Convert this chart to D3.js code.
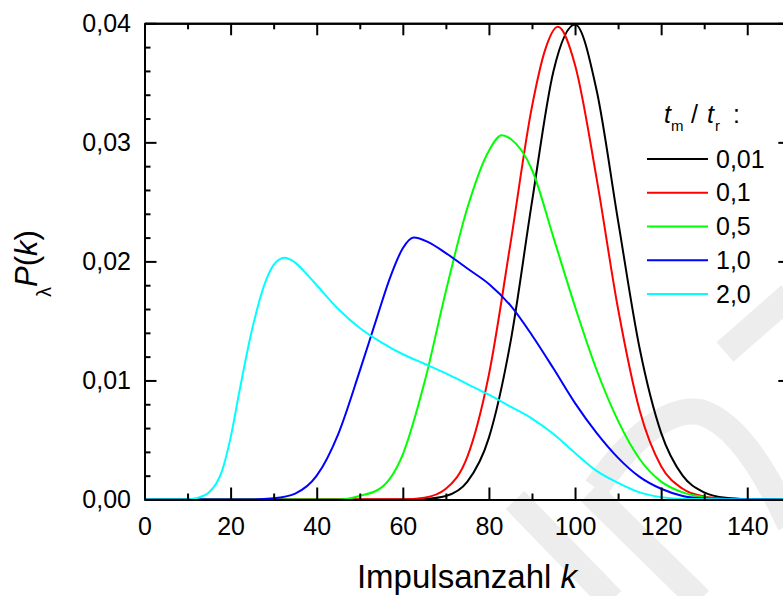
<!DOCTYPE html>
<html>
<head>
<meta charset="utf-8">
<script src="https://cdn.jsdelivr.net/npm/d3@7"></script>
<style>
  body { margin: 0; background: #fff; }
  svg text { font-family: "Liberation Sans", Arial, sans-serif; }
  .axis path, .axis line { stroke: #000; stroke-width: 2px; }
  .curve { fill: none; stroke-width: 2px; }
</style>
</head>
<body>
<svg id="chart" width="783" height="596"></svg>
<script>
// values (k = Impulsanzahl, p = lambda*P(k))
const seriesLabels = ["0,01", "0,1", "0,5", "1,0", "2,0"];
const seriesColors = ["#000000", "#ff0000", "#00ff00", "#0000ff", "#00ffff"];

const kBlack = [0, 60, 65, 70, 75, 80, 85, 90, 95, 100, 105, 110, 115, 120, 125, 130, 135, 140, 150];
const pBlack = [0, 0, 0.00005, 0.0003, 0.0015, 0.0052, 0.0132, 0.025, 0.036, 0.0399, 0.0344, 0.0234, 0.0127, 0.0056, 0.002, 0.0006, 0.00014, 0.00003, 0];

const kRed = [0, 60, 65, 70, 75, 80, 85, 90, 93, 96, 100, 105, 110, 115, 120, 125, 130, 135, 140, 150];
const pRed = [0, 0.00002, 0.00015, 0.0009, 0.0036, 0.0105, 0.0215, 0.033, 0.0377, 0.0397, 0.0365, 0.027, 0.016, 0.0075, 0.0028, 0.0009, 0.00025, 0.00005, 0, 0];

const kGreen = [0, 45, 50, 55, 60, 65, 70, 75, 80, 83, 85, 90, 95, 100, 105, 110, 115, 120, 125, 130, 135, 150];
const pGreen = [0, 0, 0.0003, 0.001, 0.0038, 0.0098, 0.0175, 0.0245, 0.0293, 0.0306, 0.0303, 0.0277, 0.022, 0.0162, 0.0109, 0.0066, 0.0034, 0.0015, 0.0006, 0.0002, 0.00005, 0];

const kBlue = [0, 25, 30, 35, 40, 45, 50, 54, 57, 60, 62.5, 66, 70, 75, 80, 85, 90, 95, 100, 105, 110, 115, 120, 125, 130, 150];
const pBlue = [0, 0, 0.0001, 0.0005, 0.002, 0.0055, 0.0108, 0.0153, 0.0186, 0.0211, 0.022, 0.0216, 0.0207, 0.0194, 0.0181, 0.0163, 0.0138, 0.011, 0.0081, 0.0056, 0.0035, 0.0019, 0.0009, 0.0003, 0.0001, 0];

const kCyan = [0, 10, 12, 15, 18, 20, 22, 25, 28, 30, 32.5, 35, 38, 40, 45, 50, 55, 60, 65, 70, 75, 80, 85, 90, 95, 100, 105, 110, 115, 120, 125, 150];
const pCyan = [0, 0, 0.0001, 0.0006, 0.0024, 0.0052, 0.009, 0.0143, 0.0182, 0.0197, 0.0203, 0.0199, 0.0188, 0.018, 0.016, 0.0144, 0.0132, 0.0122, 0.0114, 0.0106, 0.0097, 0.0088, 0.0078, 0.0068, 0.0055, 0.0039, 0.0024, 0.0014, 0.0006, 0.0002, 0.00005, 0];

const xMajorTicks = [0, 20, 40, 60, 80, 100, 120, 140];
const xMinorTicks = [10, 30, 50, 70, 90, 110, 130, 150];
const yMajorTicks = [0, 0.01, 0.02, 0.03, 0.04];
const yMinorTicks = [0.002, 0.004, 0.006, 0.008, 0.012, 0.014, 0.016, 0.018,
  0.022, 0.024, 0.026, 0.028, 0.032, 0.034, 0.036, 0.038];

const plot = { left: 144.5, right: 790.3, top: 23.3, bottom: 499.5 };
const font = '"Liberation Sans", Arial, sans-serif';

const svg = d3.select("#chart");

// faint watermark in the background
const wm = svg.append("g").attr("fill", "none").attr("stroke", "#ededed").attr("stroke-width", 26);
wm.append("path").attr("d", "M 515 500 L 612 600");
wm.append("path").attr("d", "M 590 492 L 700 600");
wm.append("path").attr("d", "M 596 488 Q 655 405 700 412 Q 745 425 790 525");
wm.append("path").attr("d", "M 725 352 L 790 295");

const x = d3.scaleLinear().domain([0, 150]).range([plot.left, plot.right]);
const y = d3.scaleLinear().domain([0, 0.04]).range([plot.bottom, plot.top]);

const fmt = d3.formatLocale({ decimal: ",", thousands: ".", grouping: [3], currency: ["", ""] });
const yFormat = (v) => fmt.format(".2f")(v);

// curves, black first so cyan ends up on top
const series = [
  [kBlack, pBlack], [kRed, pRed], [kGreen, pGreen], [kBlue, pBlue], [kCyan, pCyan]
];
const line = d3.line()
  .x((d) => x(d[0]))
  .y((d) => y(d[1]))
  .curve(d3.curveMonotoneX);

series.forEach((s, i) => {
  const pts = s[0].map((k, j) => [k, s[1][j]]);
  svg.append("path")
    .datum(pts)
    .attr("class", "curve")
    .attr("stroke", seriesColors[i])
    .attr("d", line);
});

// AXES (ticks point inward)
function styleAxis(g) {
  g.attr("font-size", 25).attr("font-family", font);
  g.selectAll("text").attr("fill", "#000");
}

svg.append("g").attr("class", "axis")
  .attr("transform", "translate(0," + plot.bottom + ")")
  .call(d3.axisBottom(x).tickValues(xMajorTicks).tickSizeInner(-12).tickSizeOuter(0)
    .tickPadding(18).tickFormat(d3.format("d")))
  .call(styleAxis);
svg.append("g").attr("class", "axis")
  .attr("transform", "translate(0," + plot.bottom + ")")
  .call(d3.axisBottom(x).tickValues(xMinorTicks).tickSizeInner(-6).tickSizeOuter(0).tickFormat(""));

svg.append("g").attr("class", "axis")
  .attr("transform", "translate(0," + plot.top + ")")
  .call(d3.axisTop(x).tickValues(xMajorTicks).tickSizeInner(-12).tickSizeOuter(0).tickFormat(""));
svg.append("g").attr("class", "axis")
  .attr("transform", "translate(0," + plot.top + ")")
  .call(d3.axisTop(x).tickValues(xMinorTicks).tickSizeInner(-6).tickSizeOuter(0).tickFormat(""));

svg.append("g").attr("class", "axis")
  .attr("transform", "translate(" + plot.left + ",0)")
  .call(d3.axisLeft(y).tickValues(yMajorTicks).tickSizeInner(-12).tickSizeOuter(0)
    .tickPadding(13.5).tickFormat(yFormat))
  .call(styleAxis);
svg.append("g").attr("class", "axis")
  .attr("transform", "translate(" + plot.left + ",0)")
  .call(d3.axisLeft(y).tickValues(yMinorTicks).tickSizeInner(-6).tickSizeOuter(0).tickFormat(""));

svg.append("g").attr("class", "axis")
  .attr("transform", "translate(" + plot.right + ",0)")
  .call(d3.axisRight(y).tickValues(yMajorTicks).tickSizeInner(-12).tickSizeOuter(0).tickFormat(""));
svg.append("g").attr("class", "axis")
  .attr("transform", "translate(" + plot.right + ",0)")
  .call(d3.axisRight(y).tickValues(yMinorTicks).tickSizeInner(-6).tickSizeOuter(0).tickFormat(""));

// axis titles
const xLabel = svg.append("text")
  .attr("x", 467)
  .attr("y", 588)
  .attr("text-anchor", "middle")
  .style("font-size", "33px");
xLabel.append("tspan").text("Impulsanzahl ");
xLabel.append("tspan").style("font-style", "italic").text("k");

const yLabel = svg.append("text")
  .attr("transform", "translate(37,297) rotate(-90)")
  .style("font-size", "31px");
yLabel.append("tspan").style("font-size", "20px").attr("dy", 14).text("λ");
yLabel.append("tspan").style("font-style", "italic").attr("dy", -14).text("P");
yLabel.append("tspan").text("(");
yLabel.append("tspan").style("font-style", "italic").text("k");
yLabel.append("tspan").text(")");

// legend
const title = svg.append("text").attr("y", 123).style("font-size", "25px");
title.append("tspan").attr("x", 664).style("font-style", "italic").text("t");
title.append("tspan").attr("x", 671).attr("dy", 8).style("font-size", "15px").text("m");
title.append("tspan").attr("x", 691).attr("dy", -8).text("/");
title.append("tspan").attr("x", 707).style("font-style", "italic").text("t");
title.append("tspan").attr("x", 715).attr("dy", 8).style("font-size", "15px").text("r");
title.append("tspan").attr("x", 733).attr("dy", -8).text(":");

const legendY = d3.scaleLinear().domain([0, 4]).range([159, 294]);
seriesLabels.forEach((lab, i) => {
  svg.append("line")
    .attr("x1", 647).attr("x2", 708)
    .attr("y1", legendY(i)).attr("y2", legendY(i))
    .attr("stroke", seriesColors[i])
    .attr("stroke-width", 2);
  svg.append("text")
    .attr("x", 716)
    .attr("y", legendY(i) + 8.5)
    .style("font-size", "25px")
    .text(lab);
});
</script>
</body>
</html>
